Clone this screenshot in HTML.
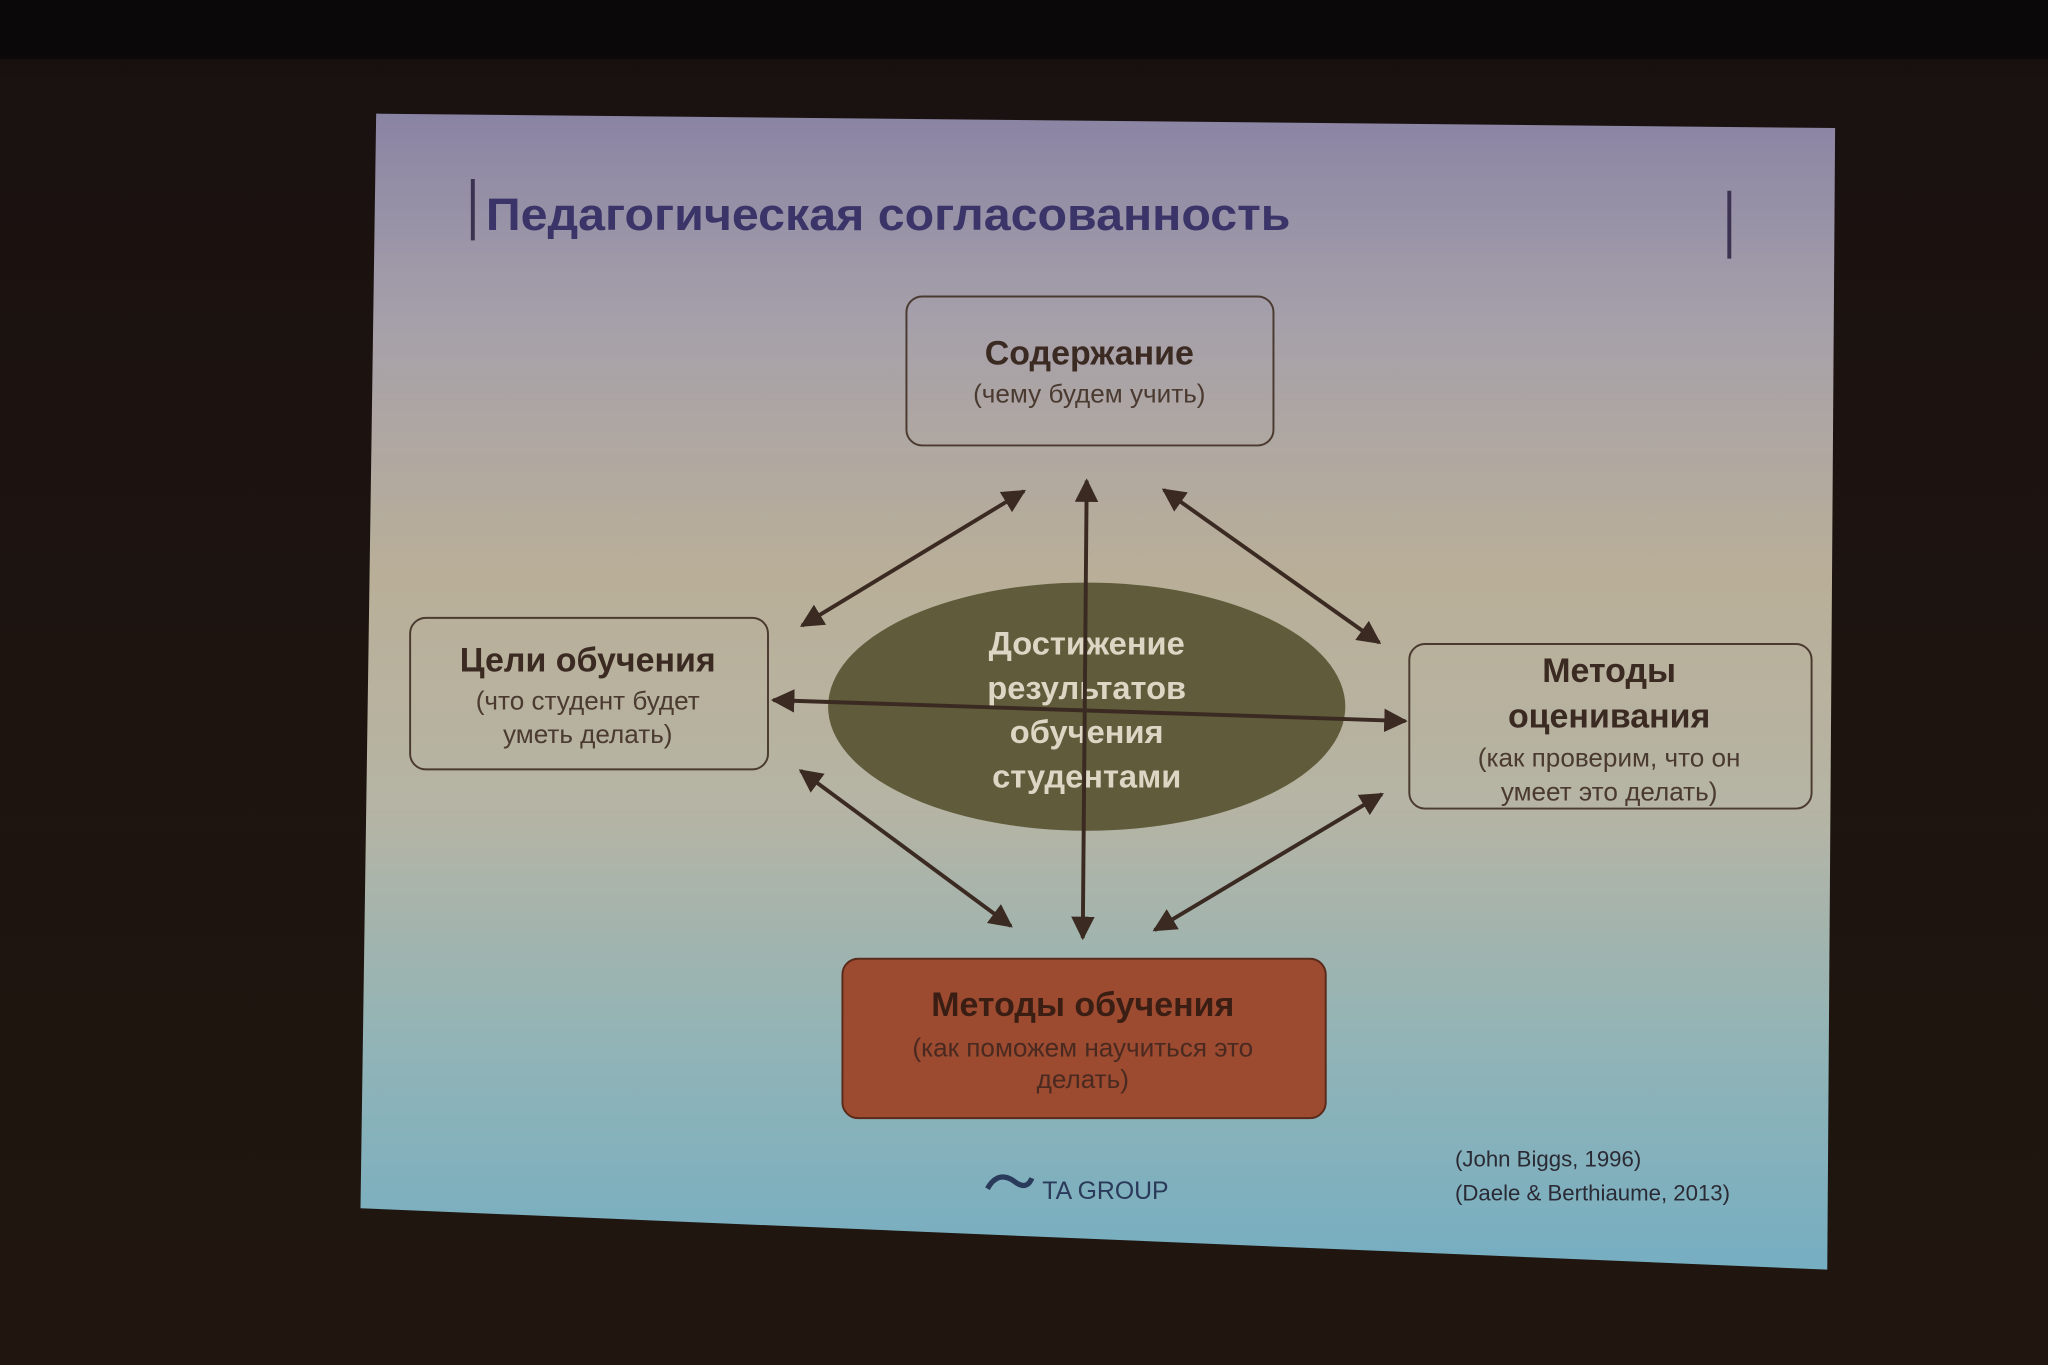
<!DOCTYPE html>
<html><head><meta charset="utf-8"><style>
html,body{margin:0;padding:0;background:#1c1512;}
svg{display:block}
text{font-family:"Liberation Sans",sans-serif}
</style></head><body>
<svg width="2048" height="1365" viewBox="0 0 1568 1045" preserveAspectRatio="none" xmlns="http://www.w3.org/2000/svg">
<defs>
<linearGradient id="bg" x1="0" y1="0" x2="0" y2="1">
<stop offset="0" stop-color="#8a84a4"/>
<stop offset="0.18" stop-color="#a6a0aa"/>
<stop offset="0.4" stop-color="#b9af98"/>
<stop offset="0.6" stop-color="#b6b4a4"/>
<stop offset="0.8" stop-color="#92b4b6"/>
<stop offset="1" stop-color="#76aec2"/>
</linearGradient>
<linearGradient id="room" x1="0" y1="0" x2="0" y2="1">
<stop offset="0" stop-color="#0c0808"/>
<stop offset="0.06" stop-color="#1a1210"/>
<stop offset="1" stop-color="#20160f"/>
</linearGradient>
<marker id="a" viewBox="0 0 10 10" refX="9" refY="5" markerWidth="6" markerHeight="6" orient="auto-start-reverse"><path d="M0,0L10,5L0,10z" fill="#3a2a22"/></marker>
</defs>
<rect width="1568" height="1045" fill="url(#room)"/>
<rect x="0" y="0" width="1568" height="45" fill="#0a0808"/>
<polygon points="288,87 1405,98 1399,972 276,925" fill="url(#bg)"/>
<line x1="362" y1="137" x2="362" y2="184" stroke="#3a3250" stroke-width="3"/>
<line x1="1324" y1="146" x2="1324" y2="198" stroke="#3a3250" stroke-width="3"/>
<text x="372" y="176" font-size="35" font-weight="bold" fill="#3a3468" textLength="616" lengthAdjust="spacingAndGlyphs">Педагогическая согласованность</text>
<rect x="694" y="227" width="281" height="114" rx="12" fill="none" stroke="#4a3a30" stroke-width="1.5"/>
<text x="834" y="279" font-size="26" font-weight="bold" fill="#3a2a22" text-anchor="middle">Содержание</text>
<text x="834" y="308" font-size="20" fill="#4a3a30" text-anchor="middle">(чему будем учить)</text>
<rect x="314" y="473" width="274" height="116" rx="12" fill="none" stroke="#4a3a30" stroke-width="1.5"/>
<text x="450" y="514" font-size="26" font-weight="bold" fill="#3a2a22" text-anchor="middle">Цели обучения</text>
<text x="450" y="543" font-size="20" fill="#4a3a30" text-anchor="middle">(что студент будет</text>
<text x="450" y="569" font-size="20" fill="#4a3a30" text-anchor="middle">уметь делать)</text>
<rect x="1079" y="493" width="308" height="126" rx="12" fill="none" stroke="#4a3a30" stroke-width="1.5"/>
<text x="1232" y="522" font-size="26" font-weight="bold" fill="#3a2a22" text-anchor="middle">Методы</text>
<text x="1232" y="557" font-size="26" font-weight="bold" fill="#3a2a22" text-anchor="middle">оценивания</text>
<text x="1232" y="587" font-size="20" fill="#4a3a30" text-anchor="middle">(как проверим, что он</text>
<text x="1232" y="613" font-size="20" fill="#4a3a30" text-anchor="middle">умеет это делать)</text>
<rect x="645" y="734" width="370" height="122" rx="12" fill="#9c4a30" stroke="#5a2a1a" stroke-width="1.5"/>
<text x="829" y="778" font-size="26" font-weight="bold" fill="#3a1e14" text-anchor="middle">Методы обучения</text>
<text x="829" y="809" font-size="20" fill="#4a2a20" text-anchor="middle">(как поможем научиться это</text>
<text x="829" y="833" font-size="20" fill="#4a2a20" text-anchor="middle">делать)</text>
<ellipse cx="832" cy="541" rx="198" ry="95" fill="#5f5b3b"/>
<g font-size="25" font-weight="bold" fill="#ddd6c4" text-anchor="middle">
<text x="832" y="501">Достижение</text>
<text x="832" y="535">результатов</text>
<text x="832" y="569">обучения</text>
<text x="832" y="603">студентами</text>
</g>
<g stroke="#3a2a22" stroke-width="3" marker-start="url(#a)" marker-end="url(#a)">
<line x1="784" y1="376" x2="614" y2="479"/>
<line x1="832" y1="368" x2="829" y2="718"/>
<line x1="891" y1="375" x2="1056" y2="492"/>
<line x1="592" y1="536" x2="1076" y2="552"/>
<line x1="613" y1="590" x2="774" y2="709"/>
<line x1="1058" y1="608" x2="884" y2="712"/>
</g>
<text x="1114" y="893" font-size="17" fill="#2a2a34">(John Biggs, 1996)</text>
<text x="1114" y="919" font-size="17" fill="#2a2a34">(Daele &amp; Berthiaume, 2013)</text>
<path d="M756,910 q8,-14 20,-6 q10,8 14,-2" fill="none" stroke="#2a3a5a" stroke-width="4"/>
<text x="798" y="918" font-size="19" fill="#2a3a5a" font-family="Liberation Serif">TA GROUP</text>
</svg>
</body></html>
